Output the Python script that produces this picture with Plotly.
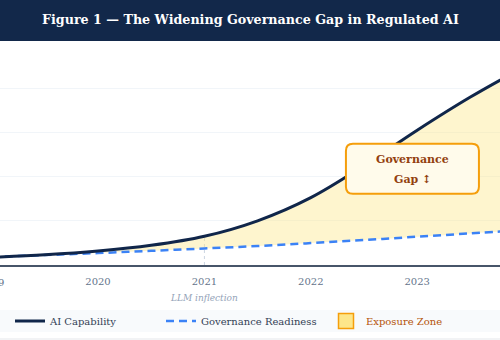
import plotly.graph_objects as go

# ---------------- data ----------------
years = [2019.0, 2019.5, 2020.0, 2020.5, 2021.0, 2021.5, 2022.0, 2022.5, 2023.0, 2023.5, 2024.0]
ai_capability = [3.5, 4.6, 6.3, 8.9, 13.0, 20.0, 30.5, 45.0, 61.0, 76.0, 89.5]
gov_readiness = [3.6, 4.5, 5.4, 6.4, 7.5, 8.6, 9.9, 11.3, 12.8, 14.3, 15.8]
tick_years = [2019, 2020, 2021, 2022, 2023]
tick_labels = ["2019", "2020", "2021", "2022", "2023"]
inflection_year = 2021
inflection_label = "LLM inflection"
title_text = "Figure 1 \u2014 The Widening Governance Gap in Regulated AI"
names = ["AI Capability", "Governance Readiness", "Exposure Zone"]
gap_label = ["Governance", "Gap \u2195"]

# ---------------- style ----------------
W, H = 500, 340
MT, MB = 44, 75
PH = H - MT - MB
X_RANGE = [2019.079, 2023.778]
Y_RANGE = [0, 100]
NAVY = "#10264a"
BLUE = "#3b82f6"
FONT = "DejaVu Serif"


def py(ypx):
    """pixel row -> paper y"""
    return (H - MB - ypx) / PH


fig = go.Figure()

# fill base (invisible) + exposure fill
fig.add_trace(go.Scatter(x=years, y=gov_readiness, mode="lines",
                         line=dict(width=0, shape="spline"),
                         showlegend=False, hoverinfo="skip"))
fig.add_trace(go.Scatter(x=years, y=ai_capability, mode="lines",
                         line=dict(width=0, shape="spline"),
                         fill="tonexty", fillcolor="rgba(253,230,138,0.42)",
                         showlegend=False, hoverinfo="skip"))

# visible lines
fig.add_trace(go.Scatter(x=years, y=gov_readiness, mode="lines", name=names[1],
                         line=dict(color=BLUE, width=2.5, dash="8px,5px", shape="spline"),
                         legendrank=2, legendwidth=120))
fig.add_trace(go.Scatter(x=years, y=ai_capability, mode="lines", name=names[0],
                         line=dict(color=NAVY, width=3, shape="spline"),
                         legendrank=1, legendwidth=106))
# legend swatch for exposure zone
fig.add_trace(go.Scatter(x=[None], y=[None], mode="markers",
                         name="<span style='color:#b45309'>" + names[2] + "</span>",
                         marker=dict(symbol="square", size=15, color="#fde68a",
                                     line=dict(color="#f59e0b", width=1.5)),
                         legendrank=3, legendwidth=100))

# inflection marker line
infl_val = ai_capability[years.index(float(inflection_year))]
fig.add_shape(type="line", xref="x", yref="y", x0=inflection_year, x1=inflection_year,
              y0=0, y1=infl_val, line=dict(color="#cbd5e1", width=1, dash="3px,3px"),
              layer="below")

shapes = []
# title bar
shapes.append(dict(type="rect", xref="paper", yref="paper", x0=0, x1=1,
                   y0=py(41), y1=py(-2), fillcolor="#12284a", line=dict(width=0)))
# legend band
shapes.append(dict(type="rect", xref="paper", yref="paper", x0=0, x1=1,
                   y0=py(332), y1=py(310), fillcolor="#f8fafc", line=dict(width=0),
                   layer="below"))
shapes.append(dict(type="line", xref="paper", yref="paper", x0=0, x1=1,
                   y0=py(339), y1=py(339), line=dict(color="#e5e7eb", width=1)))
# rounded callout box (pixel-sized, anchored at data point)
bw, bh, r = 133 / 2, 50 / 2, 7
path = (f"M{-bw + r},{-bh} L{bw - r},{-bh} Q{bw},{-bh} {bw},{-bh + r} "
        f"L{bw},{bh - r} Q{bw},{bh} {bw - r},{bh} L{-bw + r},{bh} "
        f"Q{-bw},{bh} {-bw},{bh - r} L{-bw},{-bh + r} Q{-bw},{-bh} {-bw + r},{-bh} Z")
box_x, box_y = 2022.955, 43.6
shapes.append(dict(type="path", xref="x", yref="y", xsizemode="pixel", ysizemode="pixel",
                   xanchor=box_x, yanchor=box_y, path=path,
                   fillcolor="#fffbeb", line=dict(color="#f59e0b", width=2)))
for s in shapes:
    fig.add_shape(**s)

ann = []
ann.append(dict(text="<b>" + title_text + "</b>", xref="paper", yref="paper",
                x=0.5, y=py(20), xanchor="center", yanchor="middle", showarrow=False,
                font=dict(family=FONT, size=12.7, color="white")))
ann.append(dict(text="<b>" + gap_label[0] + "</b>", xref="x", yref="y", x=box_x, y=box_y,
                yshift=9, showarrow=False, xanchor="center", yanchor="middle",
                font=dict(family=FONT, size=11, color="#92400e")))
ann.append(dict(text="<b>" + gap_label[1] + "</b>", xref="x", yref="y", x=box_x, y=box_y,
                yshift=-10.5, showarrow=False, xanchor="center", yanchor="middle",
                font=dict(family=FONT, size=11, color="#92400e")))
ann.append(dict(text="<i>" + inflection_label + "</i>", xref="x", yref="paper",
                x=inflection_year, y=py(298), showarrow=False, xanchor="center",
                yanchor="middle", font=dict(family=FONT, size=9, color="#94a3b8")))
# first-year tick label that sits partly off the left edge
x_first = (tick_years[0] - X_RANGE[0]) / (X_RANGE[1] - X_RANGE[0])
ann.append(dict(text=tick_labels[0], xref="paper", yref="paper", x=x_first, y=py(282),
                showarrow=False, xanchor="center", yanchor="middle",
                font=dict(family=FONT, size=10, color="#64748b")))
for a in ann:
    fig.add_annotation(**a)

fig.update_layout(
    width=W, height=H,
    margin=dict(l=0, r=0, t=MT, b=MB, pad=0),
    paper_bgcolor="white", plot_bgcolor="white",
    showlegend=True,
    legend=dict(orientation="h", traceorder="normal", x=0.02, xanchor="left",
                y=py(321), yanchor="middle",
                bgcolor="rgba(0,0,0,0)", font=dict(family=FONT, size=10, color="#334155"),
                itemclick=False, itemdoubleclick=False),
    xaxis=dict(range=X_RANGE, tickvals=tick_years, ticktext=tick_labels,
               showgrid=False, zeroline=False, showline=True, linecolor="#475569",
               linewidth=2, ticks="", tickfont=dict(family=FONT, size=10, color="#64748b"),
               ticklabelstandoff=6, fixedrange=True),
    yaxis=dict(range=Y_RANGE, dtick=20, showticklabels=False, showgrid=True,
               gridcolor="#f1f5f9", gridwidth=1, zeroline=False, showline=False,
               fixedrange=True),
)

fig.write_html("out.html")
